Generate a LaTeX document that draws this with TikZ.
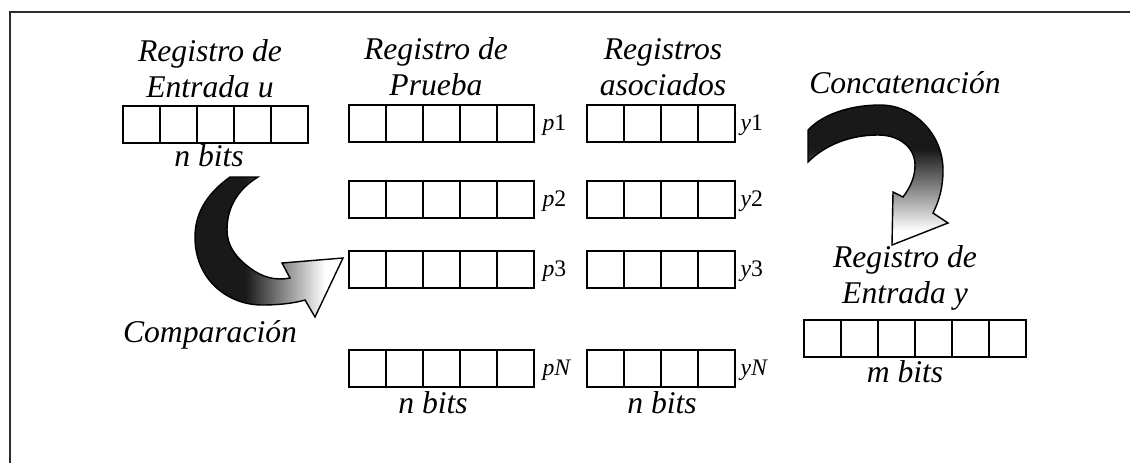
\documentclass[tikz,border=0pt]{standalone}
\usepackage{fontspec}
\setmainfont{Liberation Serif}
\usetikzlibrary{positioning}

\pgfdeclarehorizontalshading{faderight}{100bp}{color(0bp)=(black!90); color(42bp)=(black!90); color(69bp)=(white); color(100bp)=(white)}
\pgfdeclareverticalshading{fadedown}{100bp}{color(0bp)=(white); color(30bp)=(white); color(59bp)=(black!90); color(100bp)=(black!90)}

\begin{document}
\begin{tikzpicture}[x=0.02cm, y=-0.02cm]
	\tikzstyle{cell}=[draw, line width=1.3pt, minimum size=0.74cm, inner sep=0pt, anchor=north west]
	\tikzstyle{title}=[font=\fontsize{18}{20}\selectfont\itshape, align=center, anchor=base, inner sep=0pt]
	\tikzstyle{tag}=[font=\fontsize{13.5}{15}\selectfont, anchor=base west, inner sep=0pt]
	\useasboundingbox (0,0) rectangle (1130,463);
	
	% Open frame
	\draw[gray!35!black, line width=1.1pt] (10,463) -- (10,12) -- (1130,12);
	
	% Input register u
	\foreach \i in {1,...,5}
		\node[cell] (u\i) at ({122+37*(\i-1)},105) {};
	\node[title] (titleu) at (210,97) {Registro de\\Entrada u};
	\node[title] (bitsu) at (209,166) {n bits};
	
	% Test registers and associated registers
	\foreach \r/\t/\y in {1/1/104, 2/2/180, 3/3/250, N/\textit{N}/349} {
		\foreach \i in {1,...,5}
			\node[cell] (p\r-\i) at ({348+37*(\i-1)},\y) {};
		\foreach \i in {1,...,4}
			\node[cell] (y\r-\i) at ({586+37*(\i-1)},\y) {};
		\node[tag] (tp\r) at ([shift={(7,7)}]p\r-5.east) {\textit{p}\t};
		\node[tag] (ty\r) at ([shift={(4,7)}]y\r-4.east) {\textit{y}\t};
	}
	\node[title] (titlep) at (436,95) {Registro de\\Prueba};
	\node[title] (bitsp) at (433,413) {n bits};
	\node[title] (titley) at (663,95) {Registros\\asociados};
	\node[title] (bitsy) at (662,413) {n bits};
	
	% Input register y
	\foreach \i in {1,...,6}
		\node[cell] (e\i) at ({803+37*(\i-1)},319) {};
	\node[title] (titlee) at (905,303) {Registro de\\Entrada y};
	\node[title] (bitse) at (905,382) {m bits};
	
	% Comparison arrow
	\shadedraw[shading=faderight, line width=0.8pt]
		(230,177) .. controls (205,195) and (195,215) .. (195,237)
		.. controls (195,280) and (228,305) .. (262,305)
		.. controls (280,305) and (295,303) .. (305,300)
		-- (315,317) -- (343,258) -- (282,263) -- (290,278)
		.. controls (275,281) and (262,277) .. (250,268)
		.. controls (235,257) and (227,245) .. (227,230)
		.. controls (227,205) and (240,188) .. (258,177) -- cycle;
	\node[title] (compar) at (210,342) {Comparación};
	
	% Concatenation arrow
	\shadedraw[shading=fadedown, line width=0.8pt]
		(808,130) .. controls (825,112) and (855,105) .. (880,105)
		.. controls (915,105) and (943,135) .. (943,170)
		.. controls (943,190) and (938,203) .. (933,213)
		-- (948,223) -- (892,245) -- (893,192) -- (903,197)
		.. controls (912,185) and (915,175) .. (915,165)
		.. controls (915,148) and (900,135) .. (878,135)
		.. controls (850,135) and (825,145) .. (808,162) -- cycle;
	\node[title] (concat) at (905,93) {Concatenación};
\end{tikzpicture}
\end{document}
